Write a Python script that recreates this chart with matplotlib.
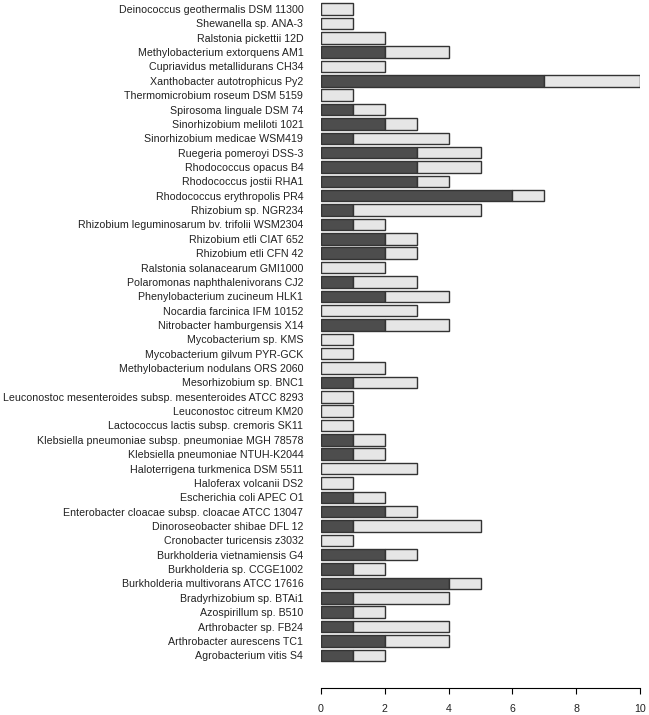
import numpy as np
import matplotlib.pyplot as plt

plt.rcParams['font.family'] = ['Liberation Sans', 'DejaVu Sans']

# top to bottom as shown in the chart
names = [
    "Deinococcus geothermalis DSM 11300",
    "Shewanella sp. ANA-3",
    "Ralstonia pickettii 12D",
    "Methylobacterium extorquens AM1",
    "Cupriavidus metallidurans CH34",
    "Xanthobacter autotrophicus Py2",
    "Thermomicrobium roseum DSM 5159",
    "Spirosoma linguale DSM 74",
    "Sinorhizobium meliloti 1021",
    "Sinorhizobium medicae WSM419",
    "Ruegeria pomeroyi DSS-3",
    "Rhodococcus opacus B4",
    "Rhodococcus jostii RHA1",
    "Rhodococcus erythropolis PR4",
    "Rhizobium sp. NGR234",
    "Rhizobium leguminosarum bv. trifolii WSM2304",
    "Rhizobium etli CIAT 652",
    "Rhizobium etli CFN 42",
    "Ralstonia solanacearum GMI1000",
    "Polaromonas naphthalenivorans CJ2",
    "Phenylobacterium zucineum HLK1",
    "Nocardia farcinica IFM 10152",
    "Nitrobacter hamburgensis X14",
    "Mycobacterium sp. KMS",
    "Mycobacterium gilvum PYR-GCK",
    "Methylobacterium nodulans ORS 2060",
    "Mesorhizobium sp. BNC1",
    "Leuconostoc mesenteroides subsp. mesenteroides ATCC 8293",
    "Leuconostoc citreum KM20",
    "Lactococcus lactis subsp. cremoris SK11",
    "Klebsiella pneumoniae subsp. pneumoniae MGH 78578",
    "Klebsiella pneumoniae NTUH-K2044",
    "Haloterrigena turkmenica DSM 5511",
    "Haloferax volcanii DS2",
    "Escherichia coli APEC O1",
    "Enterobacter cloacae subsp. cloacae ATCC 13047",
    "Dinoroseobacter shibae DFL 12",
    "Cronobacter turicensis z3032",
    "Burkholderia vietnamiensis G4",
    "Burkholderia sp. CCGE1002",
    "Burkholderia multivorans ATCC 17616",
    "Bradyrhizobium sp. BTAi1",
    "Azospirillum sp. B510",
    "Arthrobacter sp. FB24",
    "Arthrobacter aurescens TC1",
    "Agrobacterium vitis S4",
]
dark = [0, 0, 0, 2, 0, 7, 0, 1, 2, 1, 3, 3, 3, 6, 1, 1, 2, 2, 0, 1, 2, 0, 2,
        0, 0, 0, 1, 0, 0, 0, 1, 1, 0, 0, 1, 2, 1, 0, 2, 1, 4, 1, 1, 1, 2, 1]
light = [1, 1, 2, 2, 2, 3, 1, 1, 1, 3, 2, 2, 1, 1, 4, 1, 1, 1, 2, 2, 2, 3, 2,
         1, 1, 2, 2, 1, 1, 1, 1, 1, 3, 1, 1, 1, 4, 1, 1, 1, 1, 3, 1, 3, 2, 1]

n = len(names)
y = np.arange(n)[::-1]

fig = plt.figure(figsize=(6.49, 7.15), dpi=100)
ax = fig.add_axes([320.7 / 649, 27.3 / 715, 319.6 / 649, 687.7 / 715])

ax.barh(y, dark, height=0.8, color='#4d4d4d', edgecolor='#333333', linewidth=1)
ax.barh(y, light, left=dark, height=0.8, color='#e6e6e6', edgecolor='#333333', linewidth=1)

ax.set_xlim(0, 10)
ax.set_ylim(-2.26, n - 1 + 0.63)

ax.set_yticks(y)
ax.set_yticklabels(names, fontsize=7.7, color='#222222')
ax.tick_params(axis='y', length=0, pad=12.5)

ax.set_xticks(np.arange(0, 11, 2))
ax.tick_params(axis='x', length=4.1, width=0.8, labelsize=7.7, pad=7.5,
               labelcolor='#222222')

for s in ['top', 'right', 'left']:
    ax.spines[s].set_visible(False)
ax.spines['bottom'].set_bounds(0, 10)
ax.spines['bottom'].set_linewidth(0.8)
ax.patch.set_visible(False)

fig.savefig('out.png', dpi=100)
